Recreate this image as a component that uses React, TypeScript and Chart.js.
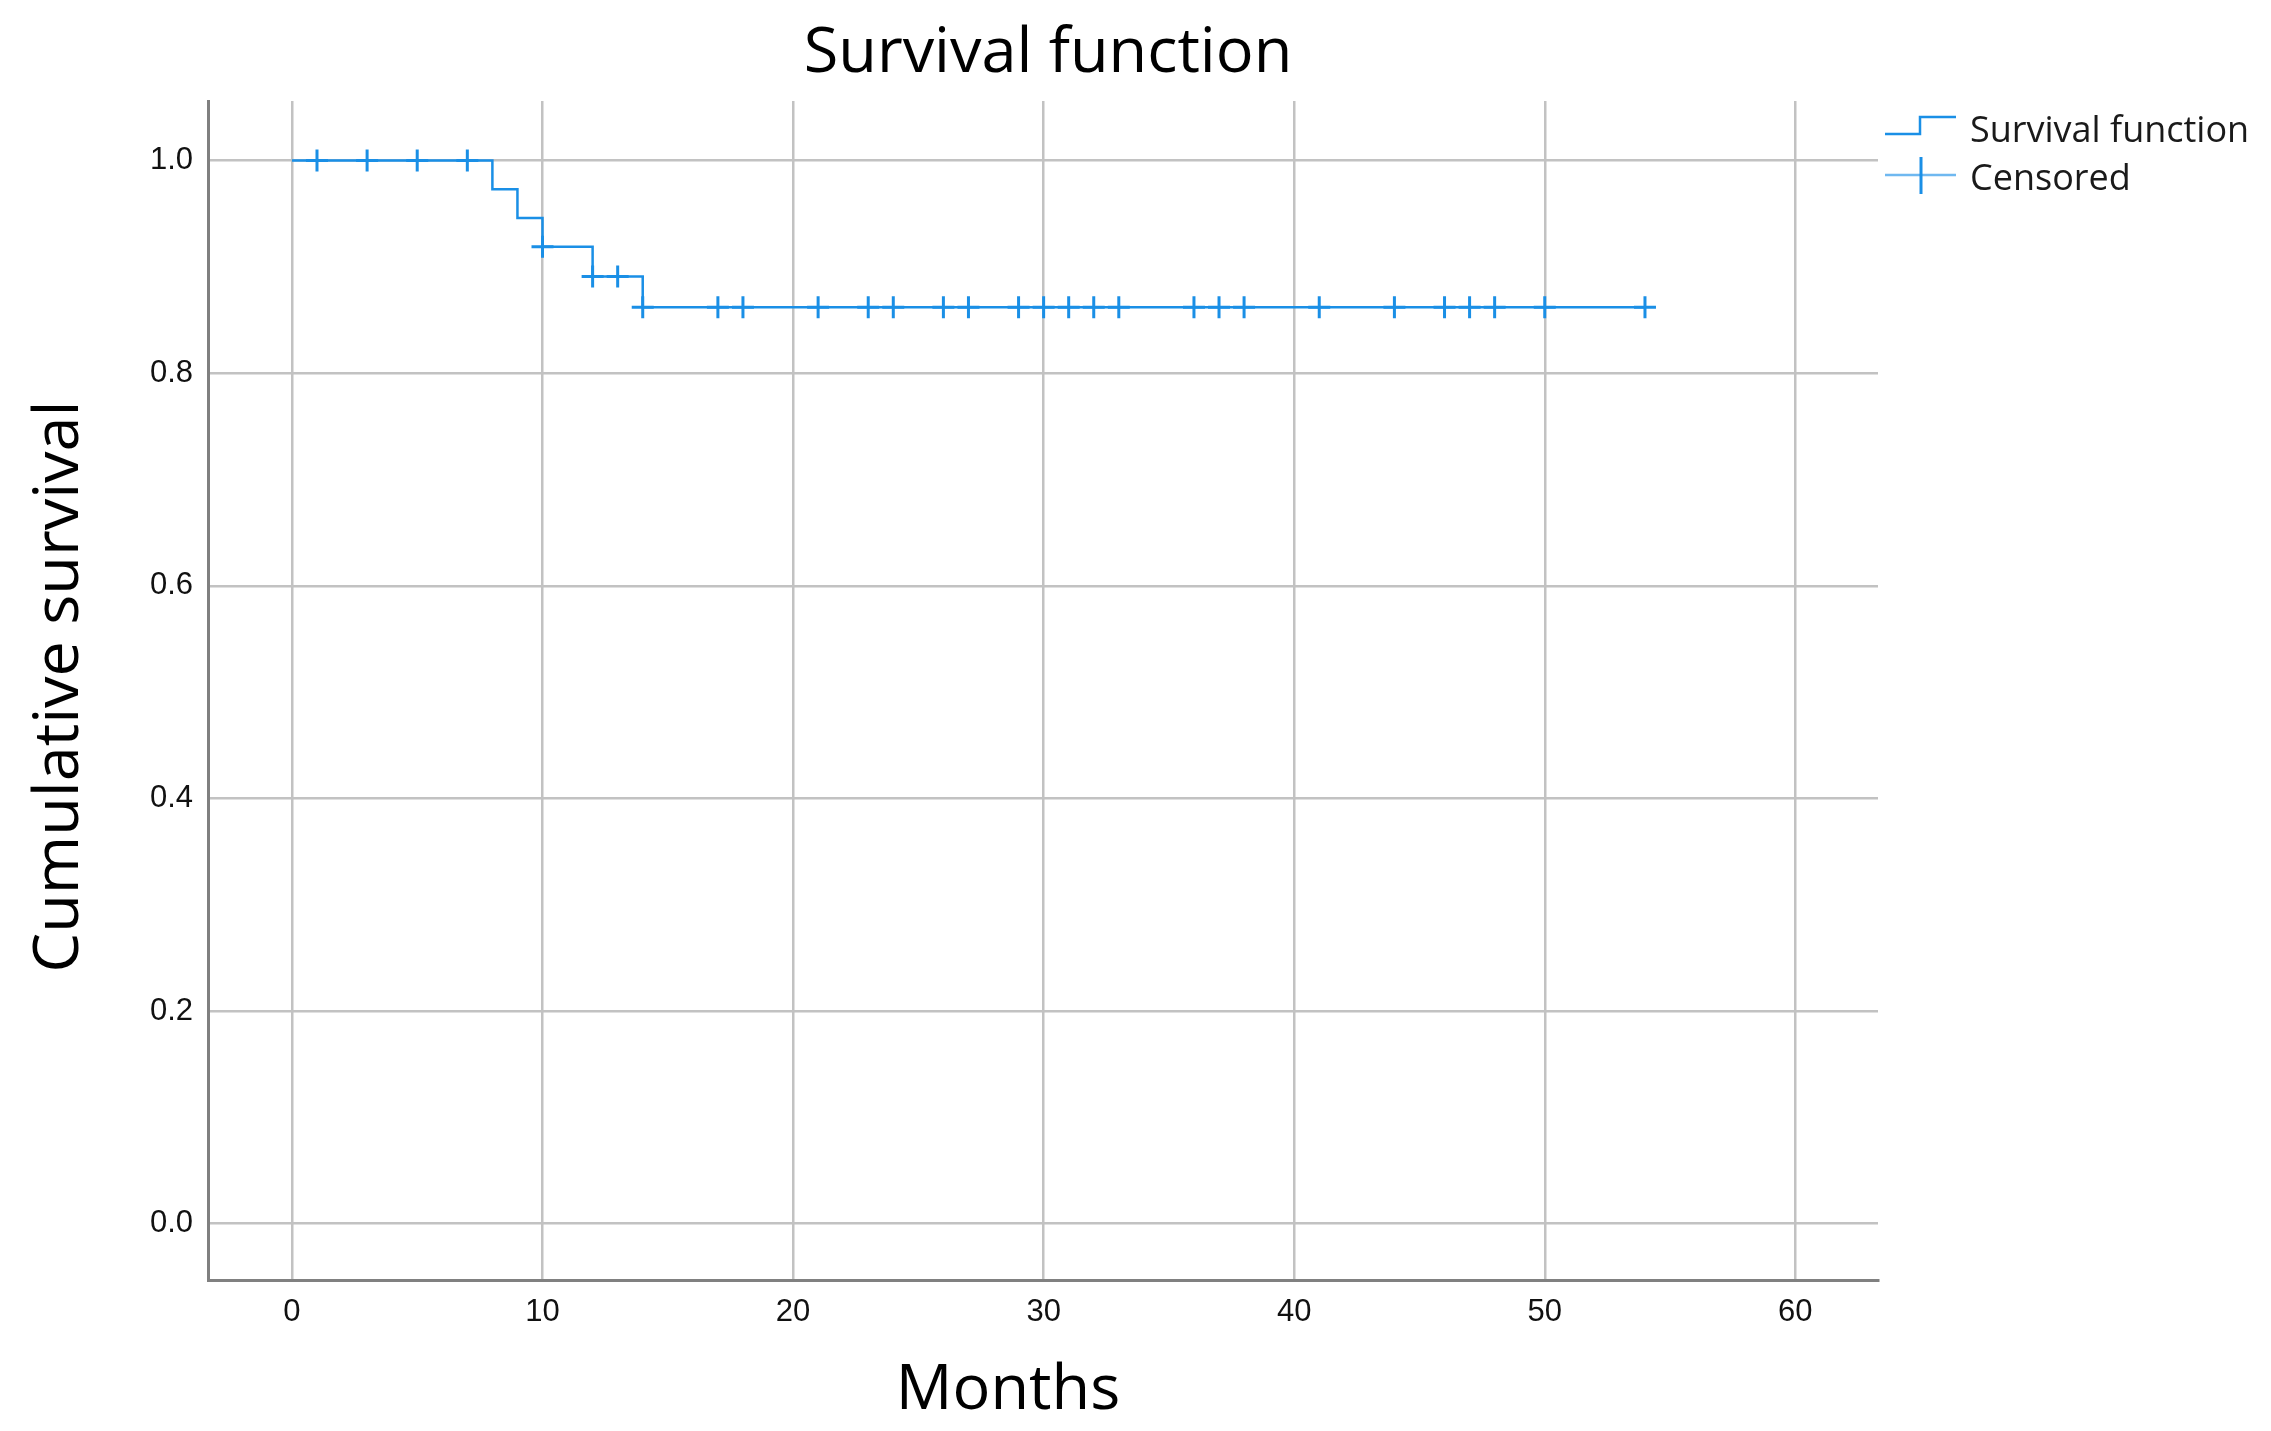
import React, { useEffect, useRef } from 'react';
import { Chart, registerables } from 'chart.js';

Chart.register(...registerables);

// ---- data ----
const stepTimes = [0, 8, 9, 10, 12, 14, 54];
const stepSurvival = [1.0, 0.973, 0.946, 0.919, 0.891, 0.862, 0.862];

const censoredTimes = [1, 3, 5, 7, 10, 12, 13, 14, 17, 18, 21, 23, 24, 26, 27, 29, 30, 31, 32, 33, 36, 37, 38, 41, 44, 46, 47, 48, 50, 54];
const censoredSurvival = [1.0, 1.0, 1.0, 1.0, 0.919, 0.891, 0.891, 0.862, 0.862, 0.862, 0.862, 0.862, 0.862, 0.862, 0.862, 0.862, 0.862, 0.862, 0.862, 0.862, 0.862, 0.862, 0.862, 0.862, 0.862, 0.862, 0.862, 0.862, 0.862, 0.862];

const xTickValues = [0, 10, 20, 30, 40, 50, 60];
const yTickValues = [0.0, 0.2, 0.4, 0.6, 0.8, 1.0];

const chartTitle = 'Survival function';
const xTitle = 'Months';
const yTitle = 'Cumulative survival';
const legendLabels = ['Survival function', 'Censored'];

const BLUE = '#1a8fe6';
const LIGHT_BLUE = '#6fb8f0';
const GRID = '#c2c2c2';
const TITLE_FONT = '"Open Sans", "Noto Sans", sans-serif';
const TICK_FONT = '"Liberation Sans", Arial, sans-serif';

const textPlugin = {
  id: 'kmText',
  afterDraw(chart: any) {
    const ctx = chart.ctx as CanvasRenderingContext2D;
    const area = chart.chartArea;
    ctx.save();
    ctx.fillStyle = '#000000';
    ctx.textAlign = 'center';
    ctx.textBaseline = 'alphabetic';
    // Title
    ctx.font = `63px ${TITLE_FONT}`;
    ctx.fillText(chartTitle, 1048, 72);
    // X title
    ctx.fillText(xTitle, 1008, 1409);
    // Y title
    ctx.save();
    ctx.translate(78, (area.top + area.bottom) / 2 - 4);
    ctx.rotate(-Math.PI / 2);
    ctx.fillText(yTitle, 0, 0);
    ctx.restore();

    // Legend
    ctx.lineWidth = 2.5;
    ctx.strokeStyle = BLUE;
    ctx.beginPath();
    ctx.moveTo(1885, 134);
    ctx.lineTo(1920, 134);
    ctx.lineTo(1920, 117);
    ctx.lineTo(1956, 117);
    ctx.stroke();

    ctx.strokeStyle = LIGHT_BLUE;
    ctx.beginPath();
    ctx.moveTo(1885, 175);
    ctx.lineTo(1956, 175);
    ctx.stroke();
    ctx.strokeStyle = BLUE;
    ctx.lineWidth = 3;
    ctx.beginPath();
    ctx.moveTo(1921, 157);
    ctx.lineTo(1921, 194);
    ctx.stroke();

    ctx.font = `36px ${TITLE_FONT}`;
    ctx.fillStyle = '#1a1a1a';
    ctx.textAlign = 'left';
    ctx.fillText(legendLabels[0], 1970, 142);
    ctx.fillText(legendLabels[1], 1970, 190);
    ctx.restore();
  },
};

export default function App() {
  const canvasRef = useRef<HTMLCanvasElement | null>(null);

  useEffect(() => {
    if (!canvasRef.current) return;
    const stepData = stepTimes.map((t, i) => ({ x: t, y: stepSurvival[i] }));
    const censData = censoredTimes.map((t, i) => ({ x: t, y: censoredSurvival[i] }));

    const chart = new Chart(canvasRef.current, {
      type: 'line',
      data: {
        datasets: [
          {
            label: legendLabels[1],
            data: censData,
            showLine: false,
            pointStyle: 'cross',
            pointRadius: 11,
            pointHoverRadius: 11,
            pointBorderWidth: 3,
            pointBorderColor: BLUE,
            pointBackgroundColor: BLUE,
            borderColor: BLUE,
            order: 0,
          },
          {
            label: legendLabels[0],
            data: stepData,
            stepped: 'before',
            borderColor: BLUE,
            borderWidth: 2.5,
            pointRadius: 0,
            fill: false,
            order: 1,
          },
        ],
      },
      options: {
        responsive: false,
        animation: false,
        devicePixelRatio: 1,
        layout: { padding: { top: 101, right: 393, left: 0, bottom: 0 } },
        plugins: {
          legend: { display: false },
          title: { display: false },
          tooltip: { enabled: false },
        },
        events: [],
        scales: {
          x: {
            type: 'linear',
            min: -3.35,
            max: 63.3,
            afterBuildTicks: (s: any) => {
              s.ticks = xTickValues.map((v) => ({ value: v }));
            },
            afterFit: (s: any) => {
              s.height = 151;
            },
            ticks: {
              font: { family: TICK_FONT, size: 31 },
              color: '#111111',
              padding: 14,
              maxRotation: 0,
              autoSkip: false,
              callback: (v: any) => String(v),
            },
            grid: { color: GRID, lineWidth: 2.5, drawTicks: false },
            border: { display: true, color: '#808080', width: 3 },
          },
          y: {
            type: 'linear',
            min: -0.053,
            max: 1.056,
            afterBuildTicks: (s: any) => {
              s.ticks = yTickValues.map((v) => ({ value: v }));
            },
            afterFit: (s: any) => {
              s.width = 208;
            },
            ticks: {
              font: { family: TICK_FONT, size: 31 },
              color: '#111111',
              padding: 15,
              autoSkip: false,
              callback: (v: any) => Number(v).toFixed(1),
            },
            grid: { color: GRID, lineWidth: 2.5, drawTicks: false },
            border: { display: true, color: '#808080', width: 3 },
          },
        },
      },
      plugins: [textPlugin],
    } as any);

    return () => chart.destroy();
  }, []);

  return (
    <div style={{ position: 'absolute', left: 0, top: 0, width: 2271, height: 1431, background: '#ffffff' }}>
      <canvas ref={canvasRef} width={2271} height={1431} style={{ display: 'block', width: 2271, height: 1431 }} />
    </div>
  );
}
